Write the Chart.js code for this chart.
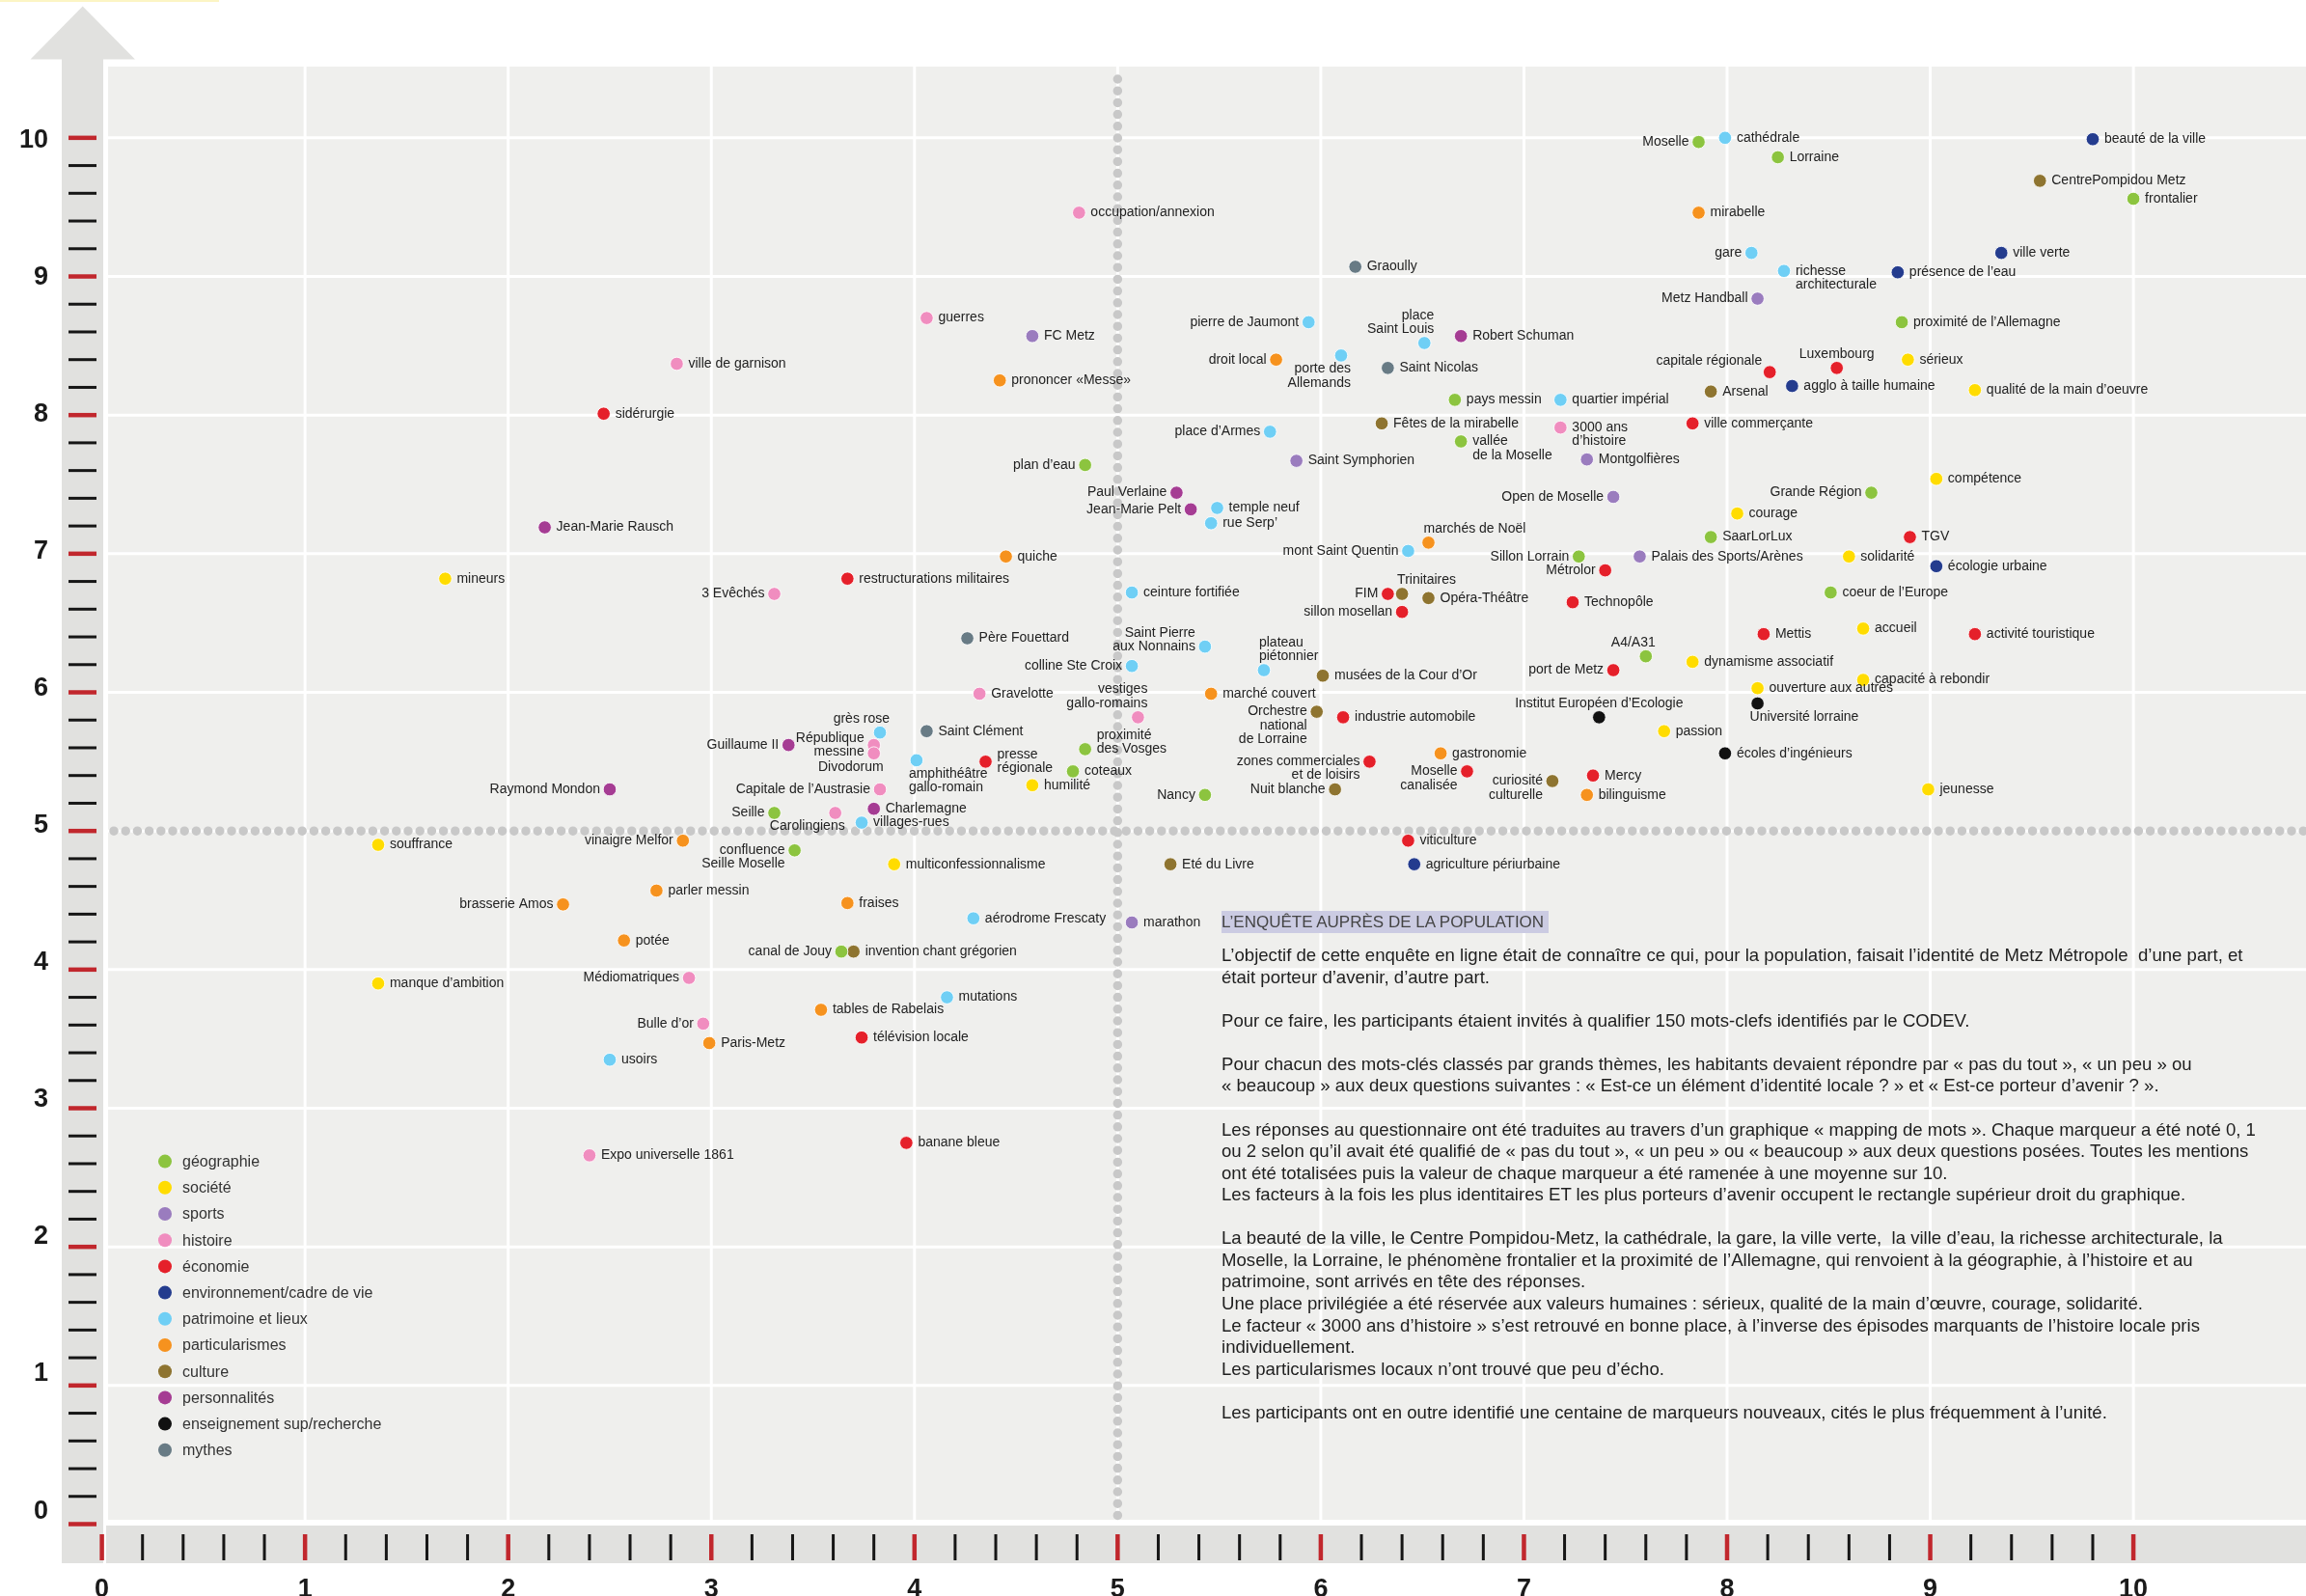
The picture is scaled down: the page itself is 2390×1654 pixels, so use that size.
<!DOCTYPE html>
<html lang="fr">
<head>
<meta charset="utf-8">
<title>Identité locale et porteurs d'avenir - Metz Métropole</title>
<script src="https://cdn.jsdelivr.net/npm/chart.js@4.4.1/dist/chart.umd.min.js"></script>
<style>
  html, body { margin: 0; padding: 0; background: #fff; }
  #wrap { position: relative; width: 2390px; height: 1654px; overflow: hidden; }
  #chart { position: absolute; left: 0; top: 0; }
  #survey {
    position: absolute; left: 1266px; top: 944px;
    font-family: "Liberation Sans", Arial, sans-serif; color: #1e1e1e;
    white-space: nowrap;
  }
  #survey h2 {
    margin: 0; display: inline-block; font-weight: normal;
    font-size: 17px; line-height: 23px; height: 23px;
    background: #cbcbe2; color: #444; padding: 0 5px 0 0;
  }
  #survey p { margin: 12px 0 0 0; font-size: 18.6px; line-height: 22.57px; }
</style>
</head>
<body>
<div id="wrap">
  <canvas id="chart" width="2390" height="1654"></canvas>
  <div id="survey">
    <h2>L’ENQUÊTE AUPRÈS DE LA POPULATION</h2>
    <p>L’objectif de cette enquête en ligne était de connaître ce qui, pour la population, faisait l’identité de Metz Métropole&nbsp; d’une part, et<br>
était porteur d’avenir, d’autre part.<br>
<br>
Pour ce faire, les participants étaient invités à qualifier 150 mots-clefs identifiés par le CODEV.<br>
<br>
Pour chacun des mots-clés classés par grands thèmes, les habitants devaient répondre par « pas du tout », « un peu » ou<br>
« beaucoup » aux deux questions suivantes : « Est-ce un élément d’identité locale ? » et « Est-ce porteur d’avenir ? ».<br>
<br>
Les réponses au questionnaire ont été traduites au travers d’un graphique « mapping de mots ». Chaque marqueur a été noté 0, 1<br>
ou 2 selon qu’il avait été qualifié de « pas du tout », « un peu » ou « beaucoup » aux deux questions posées. Toutes les mentions<br>
ont été totalisées puis la valeur de chaque marqueur a été ramenée à une moyenne sur 10.<br>
Les facteurs à la fois les plus identitaires ET les plus porteurs d’avenir occupent le rectangle supérieur droit du graphique.<br>
<br>
La beauté de la ville, le Centre Pompidou-Metz, la cathédrale, la gare, la ville verte,&nbsp; la ville d’eau, la richesse architecturale, la<br>
Moselle, la Lorraine, le phénomène frontalier et la proximité de l’Allemagne, qui renvoient à la géographie, à l’histoire et au<br>
patrimoine, sont arrivés en tête des réponses.<br>
Une place privilégiée a été réservée aux valeurs humaines : sérieux, qualité de la main d’œuvre, courage, solidarité.<br>
Le facteur « 3000 ans d’histoire » s’est retrouvé en bonne place, à l’inverse des épisodes marquants de l’histoire locale pris<br>
individuellement.<br>
Les particularismes locaux n’ont trouvé que peu d’écho.<br>
<br>
Les participants ont en outre identifié une centaine de marqueurs nouveaux, cités le plus fréquemment à l’unité.</p>
  </div>
</div>
<script>
// Themes (legend order)
const themes = [
  "géographie", "société", "sports", "histoire", "économie",
  "environnement/cadre de vie", "patrimoine et lieux", "particularismes",
  "culture", "personnalités", "enseignement sup/recherche", "mythes"
];
const themeColors = [
  "#8cc43f", "#ffdc00", "#9a7cbe", "#f08dbf", "#e5202a", "#243c8e",
  "#6fcff5", "#f6921e", "#8e7430", "#a53c93", "#111111", "#687b85"
];

// Keywords
const words = [
  "Moselle", "cathédrale", "Lorraine", "beauté de la ville", "CentrePompidou Metz",
  "frontalier", "mirabelle", "gare", "richesse\narchitecturale", "présence de l’eau",
  "ville verte", "Metz Handball", "proximité de l’Allemagne", "capitale régionale", "Luxembourg",
  "sérieux", "agglo à taille humaine", "qualité de la main d’oeuvre", "Arsenal", "quartier impérial",
  "ville commerçante", "3000 ans\nd’histoire", "Montgolfières", "compétence", "Grande Région",
  "Open de Moselle", "courage", "SaarLorLux", "TGV", "Sillon Lorrain",
  "Palais des Sports/Arènes", "solidarité", "écologie urbaine", "Métrolor", "coeur de l’Europe",
  "Technopôle", "Mettis", "accueil", "activité touristique", "A4/A31",
  "dynamisme associatif", "port de Metz", "capacité à rebondir", "ouverture aux autres", "Institut Européen d’Ecologie",
  "Université lorraine", "passion", "écoles d’ingénieurs", "Mercy", "bilinguisme",
  "curiosité\nculturelle", "jeunesse", "Graoully", "pierre de Jaumont", "place\nSaint Louis",
  "Robert Schuman", "droit local", "porte des\nAllemands", "Saint Nicolas", "pays messin",
  "Fêtes de la mirabelle", "vallée\nde la Moselle", "place d’Armes", "Saint Symphorien", "plan d’eau",
  "Paul Verlaine", "Jean-Marie Pelt", "temple neuf", "rue Serp’", "marchés de Noël",
  "mont Saint Quentin", "quiche", "restructurations militaires", "ceinture fortifiée", "FIM",
  "Trinitaires", "Opéra-Théâtre", "sillon mosellan", "Père Fouettard", "Saint Pierre\naux Nonnains",
  "colline Ste Croix", "plateau\npiétonnier", "musées de la Cour d’Or", "Gravelotte", "vestiges\ngallo-romains",
  "marché couvert", "Orchestre\nnational\nde Lorraine", "industrie automobile", "grès rose", "Saint Clément",
  "Guillaume II", "République\nmessine", "Divodorum", "amphithéâtre\ngallo-romain", "presse\nrégionale",
  "proximité\ndes Vosges", "coteaux", "humilité", "Capitale de l’Austrasie", "Charlemagne",
  "Seille", "Carolingiens", "villages-rues", "Nancy", "zones commerciales\net de loisirs",
  "Nuit blanche", "gastronomie", "Moselle\ncanalisée", "Raymond Mondon", "souffrance",
  "vinaigre Melfor", "confluence\nSeille Moselle", "viticulture", "multiconfessionnalisme", "Eté du Livre",
  "agriculture périurbaine", "parler messin", "brasserie Amos", "fraises", "aérodrome Frescaty",
  "marathon", "potée", "canal de Jouy", "invention chant grégorien", "manque d’ambition",
  "Médiomatriques", "mutations", "tables de Rabelais", "Bulle d’or", "Paris-Metz",
  "télévision locale", "usoirs", "banane bleue", "Expo universelle 1861", "ville de garnison",
  "sidérurgie", "Jean-Marie Rausch", "mineurs", "3 Evêchés", "guerres",
  "FC Metz", "prononcer «Messe»", "occupation/annexion"
];

// Theme index of each keyword
const wordTheme = [
  0, 6, 0, 5, 8, 0, 7, 6, 6, 5,
  5, 2, 0, 4, 4, 1, 5, 1, 8, 6,
  4, 3, 2, 1, 0, 2, 1, 0, 4, 0,
  2, 1, 5, 4, 0, 4, 4, 1, 4, 0,
  1, 4, 1, 1, 10, 10, 1, 10, 4, 7,
  8, 1, 11, 6, 6, 9, 7, 6, 11, 0,
  8, 0, 6, 2, 0, 9, 9, 6, 6, 7,
  6, 7, 4, 6, 4, 8, 8, 4, 11, 6,
  6, 6, 8, 3, 3, 7, 8, 4, 6, 11,
  9, 3, 3, 6, 4, 0, 0, 1, 3, 9,
  0, 3, 6, 0, 4, 8, 7, 4, 9, 1,
  7, 0, 4, 1, 8, 5, 7, 7, 7, 6,
  2, 7, 0, 8, 1, 3, 6, 7, 3, 7,
  4, 6, 4, 3, 3, 4, 9, 1, 3, 3,
  2, 7, 3
];

// "élément d'identité locale" score (x)
const identite = [
  7.86, 7.99, 8.25, 9.80, 9.54, 10.00, 7.86, 8.12, 8.28, 8.84,
  9.35, 8.15, 8.86, 8.21, 8.54, 8.89, 8.32, 9.22, 7.92, 7.18,
  7.83, 7.18, 7.31, 9.03, 8.71, 7.44, 8.05, 7.92, 8.90, 7.27,
  7.57, 8.60, 9.03, 7.40, 8.51, 7.24, 8.18, 8.67, 9.22, 7.60,
  7.83, 7.44, 8.67, 8.15, 7.37, 8.15, 7.69, 7.99, 7.34, 7.31,
  7.14, 8.99, 6.17, 5.94, 6.51, 6.69, 5.78, 6.10, 6.33, 6.66,
  6.30, 6.69, 5.75, 5.88, 4.84, 5.29, 5.36, 5.49, 5.46, 6.53,
  6.43, 4.45, 3.67, 5.07, 6.33, 6.40, 6.53, 6.40, 4.26, 5.43,
  5.07, 5.72, 6.01, 4.32, 5.10, 5.46, 5.98, 6.11, 3.83, 4.06,
  3.38, 3.80, 3.80, 4.01, 4.35, 4.84, 4.78, 4.58, 3.83, 3.80,
  3.31, 3.61, 3.74, 5.43, 6.24, 6.07, 6.59, 6.72, 2.50, 1.36,
  2.86, 3.41, 6.43, 3.90, 5.26, 6.46, 2.73, 2.27, 3.67, 4.29,
  5.07, 2.57, 3.64, 3.70, 1.36, 2.89, 4.16, 3.54, 2.96, 2.99,
  3.74, 2.50, 3.96, 2.40, 2.83, 2.47, 2.18, 1.69, 3.31, 4.06,
  4.58, 4.42, 4.81
];

// "porteur d'avenir" score (y)
const avenir = [
  9.97, 10.00, 9.86, 9.99, 9.69, 9.56, 9.46, 9.17, 9.04, 9.03,
  9.17, 8.84, 8.67, 8.31, 8.34, 8.40, 8.21, 8.18, 8.17, 8.11,
  7.94, 7.91, 7.68, 7.54, 7.44, 7.41, 7.29, 7.12, 7.12, 6.98,
  6.98, 6.98, 6.91, 6.88, 6.72, 6.65, 6.42, 6.46, 6.42, 6.26,
  6.22, 6.16, 6.09, 6.03, 5.82, 5.92, 5.72, 5.56, 5.40, 5.26,
  5.36, 5.30, 9.07, 8.67, 8.52, 8.57, 8.40, 8.43, 8.34, 8.11,
  7.94, 7.81, 7.88, 7.67, 7.64, 7.44, 7.32, 7.33, 7.22, 7.08,
  7.02, 6.98, 6.82, 6.72, 6.71, 6.71, 6.68, 6.58, 6.39, 6.33,
  6.19, 6.16, 6.12, 5.99, 5.82, 5.99, 5.86, 5.82, 5.71, 5.72,
  5.62, 5.62, 5.56, 5.51, 5.50, 5.59, 5.43, 5.33, 5.30, 5.16,
  5.13, 5.13, 5.06, 5.26, 5.50, 5.30, 5.56, 5.43, 5.30, 4.90,
  4.93, 4.86, 4.93, 4.76, 4.76, 4.76, 4.57, 4.47, 4.48, 4.37,
  4.34, 4.21, 4.13, 4.13, 3.90, 3.94, 3.80, 3.71, 3.61, 3.47,
  3.51, 3.35, 2.75, 2.66, 8.37, 8.01, 7.19, 6.82, 6.71, 8.70,
  8.57, 8.25, 9.46
];

// Where each word's label sits around its dot
const labelSide = [
  "l", "r", "r", "r", "r", "r", "r", "l", "r", "r",
  "r", "l", "r", "lh", "a", "r", "r", "r", "r", "r",
  "r", "r", "r", "r", "l", "l", "r", "r", "r", "l",
  "r", "r", "r", "l", "r", "r", "r", "r", "r", "al",
  "r", "l", "r", "r", "a", "br", "r", "r", "r", "r",
  "l", "r", "r", "l", "al", "r", "l", "bl", "r", "r",
  "r", "r", "l", "r", "l", "l", "l", "r", "r", "ar",
  "l", "r", "r", "r", "l", "ar", "r", "l", "r", "lu",
  "l", "ar", "r", "r", "al", "r", "l", "r", "al", "r",
  "l", "lc", "bl", "br", "rc", "ru", "r", "r", "l", "r",
  "l", "bl", "r", "l", "l", "l", "r", "l", "l", "r",
  "l", "l", "r", "r", "r", "r", "r", "l", "r", "r",
  "r", "r", "l", "r", "r", "l", "r", "r", "l", "r",
  "r", "r", "r", "r", "r", "r", "r", "r", "l", "r",
  "r", "r", "r"
];

const tickLabels = ["0", "1", "2", "3", "4", "5", "6", "7", "8", "9", "10"];

const LABEL_FONT = "14px 'Liberation Sans', Arial, sans-serif";
const AXIS_FONT = "bold 27px 'Liberation Sans', Arial, sans-serif";

function strokeLine(ctx, x1, y1, x2, y2) {
  ctx.beginPath();
  ctx.moveTo(x1, y1);
  ctx.lineTo(x2, y2);
  ctx.stroke();
}

function drawWordLabel(ctx, text, px, py, side) {
  const lines = text.split("\n");
  const n = lines.length;
  const lh = 14.3;
  let tx = px + 12, ty = py, align = "left";
  switch (side) {
    case "l": align = "right"; tx = px - 10; break;
    case "lh": align = "right"; tx = px - 8; ty = py - 11; break;
    case "lc": align = "right"; tx = px - 10; ty = py - (n - 1) * lh / 2; break;
    case "lu": align = "right"; tx = px - 10; ty = py - (n - 1) * lh; break;
    case "rc": ty = py - (n - 1) * lh / 2; break;
    case "ru": ty = py - (n - 1) * lh; break;
    case "a": align = "center"; tx = px; ty = py - 14.5 - (n - 1) * lh; break;
    case "al": align = "right"; tx = px + 10; ty = py - 14.5 - (n - 1) * lh; break;
    case "ar": tx = px - 5; ty = py - 14.5 - (n - 1) * lh; break;
    case "bl": align = "right"; tx = px + 10; ty = py + 14; break;
    case "br": tx = px - 8; ty = py + 14; break;
  }
  ctx.textAlign = align;
  lines.forEach((s, k) => ctx.fillText(s, tx, ty + k * lh));
}

// Background, grid, axes with arrow and tick marks, legend
const decorPlugin = {
  id: "decor",
  beforeDraw(chart) {
    const { ctx, chartArea: a, scales } = chart;
    const sx = scales.x, sy = scales.y;
    ctx.save();

    ctx.fillStyle = "#fcf5c4";
    ctx.fillRect(0, 0, 227, 2);

    ctx.fillStyle = "#efefed";
    ctx.fillRect(a.left, a.top, a.right - a.left, a.bottom - a.top);

    ctx.strokeStyle = "#ffffff";
    ctx.lineWidth = 3;
    for (let v = 1; v <= 10; v++) {
      const px = sx.getPixelForValue(v);
      const py = sy.getPixelForValue(v);
      strokeLine(ctx, px, a.top, px, a.bottom);
      strokeLine(ctx, a.left, py, a.right, py);
    }

    // dotted mid lines at 5
    ctx.strokeStyle = "#c8c8c8";
    ctx.lineWidth = 9.5;
    ctx.lineCap = "round";
    ctx.setLineDash([0, 12.2]);
    const x5 = sx.getPixelForValue(5), y5 = sy.getPixelForValue(5);
    strokeLine(ctx, x5, a.top + 13, x5, a.bottom - 4);
    strokeLine(ctx, a.left + 6, y5, a.right, y5);
    ctx.setLineDash([]);
    ctx.lineCap = "butt";

    // axis bands
    ctx.fillStyle = "#e1e1df";
    ctx.fillRect(64, 61, 43, 1559);
    ctx.beginPath();
    ctx.moveTo(31.5, 61.5);
    ctx.lineTo(140, 61.5);
    ctx.lineTo(85.7, 6.5);
    ctx.closePath();
    ctx.fill();
    ctx.fillRect(110, 1581, chart.width - 110, 39);

    // tick marks every 0.2
    for (let k = 0; k <= 50; k++) {
      const v = k / 5;
      const major = k % 5 === 0;
      ctx.fillStyle = major ? "#c1272d" : "#161616";
      const py = sy.getPixelForValue(v);
      const th = major ? 4.5 : 3;
      ctx.fillRect(71, py - th / 2, 29, th);
      const px = sx.getPixelForValue(v);
      const tw = major ? 4.5 : 3;
      ctx.fillRect(px - tw / 2, 1590, tw, 27);
    }

    // tick labels (the vertical ones sit on a slightly tighter spacing than the marks)
    ctx.fillStyle = "#1a1a1a";
    ctx.font = AXIS_FONT;
    ctx.textBaseline = "alphabetic";
    tickLabels.forEach((t, i) => {
      ctx.textAlign = "right";
      ctx.fillText(t, 50, sy.getPixelForValue(0.109 + 0.9891 * i) + 9.7);
      ctx.textAlign = "center";
      ctx.fillText(t, sx.getPixelForValue(i), 1655);
    });

    // legend
    ctx.font = "16px 'Liberation Sans', Arial, sans-serif";
    ctx.textAlign = "left";
    ctx.textBaseline = "middle";
    themes.forEach((t, i) => {
      const ly = 1203.6 + i * 27.2;
      ctx.fillStyle = themeColors[i];
      ctx.beginPath();
      ctx.arc(171, ly, 7, 0, Math.PI * 2);
      ctx.fill();
      ctx.fillStyle = "#333";
      ctx.fillText(t, 189, ly + 1);
    });
    ctx.restore();
  },
  afterDatasetsDraw(chart) {
    const { ctx } = chart;
    ctx.save();
    ctx.font = LABEL_FONT;
    ctx.fillStyle = "#222";
    ctx.textBaseline = "middle";
    chart.data.datasets.forEach((ds, di) => {
      const meta = chart.getDatasetMeta(di);
      meta.data.forEach((pt, i) => {
        const d = ds.data[i];
        drawWordLabel(ctx, d.label, pt.x, pt.y, d.side);
      });
    });
    ctx.restore();
  }
};

const datasets = themes.map((name, t) => ({
  label: name,
  data: words
    .map((w, i) => ({ x: identite[i], y: avenir[i], label: w, side: labelSide[i], theme: wordTheme[i] }))
    .filter(d => d.theme === t),
  backgroundColor: themeColors[t],
  borderColor: "rgba(255,255,255,0.85)",
  borderWidth: 1,
  pointRadius: 6.8,
  pointHoverRadius: 6.8
}));

const ctx = document.getElementById("chart").getContext("2d");
new Chart(ctx, {
  type: "scatter",
  data: { datasets },
  options: {
    responsive: false,
    animation: false,
    devicePixelRatio: 1,
    layout: { autoPadding: false, padding: { left: 112, top: 69, right: 0, bottom: 79 } },
    plugins: {
      legend: { display: false },
      tooltip: { enabled: false }
    },
    scales: {
      x: { type: "linear", min: 0.0304, max: 10.8497, display: false },
      y: { type: "linear", min: 0.0313, max: 10.514, display: false }
    }
  },
  plugins: [decorPlugin]
});
</script>
</body>
</html>
